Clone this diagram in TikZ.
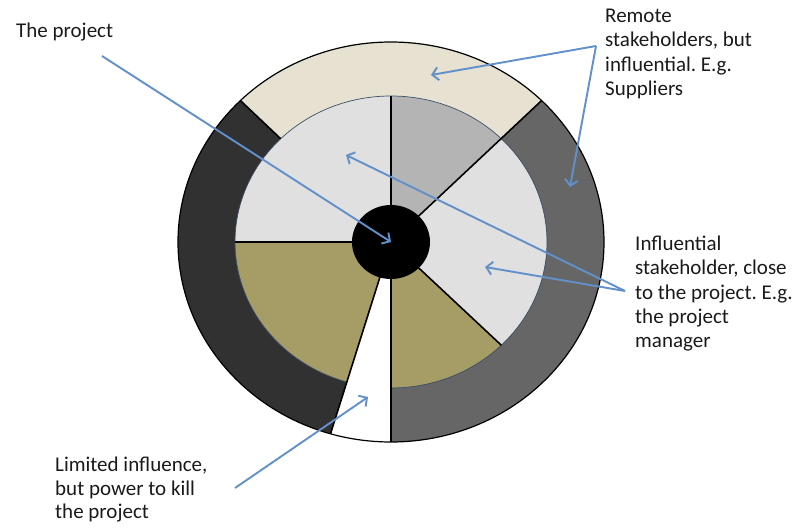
\documentclass[tikz,border=0pt]{standalone}
\usepackage{fontspec}
\setmainfont{Carlito}
\usetikzlibrary{arrows.meta,shapes.geometric}
\frenchspacing

\definecolor{ringbeige}{HTML}{E6E1D1}
\definecolor{ringdark}{HTML}{313131}
\definecolor{ringgrey}{HTML}{666666}
\definecolor{pielight}{HTML}{E0E0E0}
\definecolor{piegrey}{HTML}{B4B4B4}
\definecolor{pieolive}{HTML}{A59C66}
\definecolor{edgeblue}{HTML}{3A4E66}
\definecolor{arrowblue}{HTML}{6190CA}
\definecolor{inktext}{HTML}{1A1A1A}

\begin{document}
\begin{tikzpicture}[x=1pt,y=1pt,
  notetext/.style={anchor=base west, inner sep=0pt, text=inktext,
    font=\fontsize{21}{24.2}\selectfont},
  callout/.style={draw=arrowblue, line width=1.9pt,
    -{Straight Barb[length=6pt,width=13pt]}},
  spoke/.style={draw=black, line width=1.6pt},
  inner arc/.style={x radius=156, y radius=146},
  outer arc/.style={x radius=213, y radius=200}]
\useasboundingbox (0,0) rectangle (794,528);

\begin{scope}[shift={(391,286)}]
  % inner pie sectors (inner radii 156 x 146)
  \fill[pielight] (0,0) -- (90:156 and 146) arc[start angle=90,end angle=180,inner arc] -- cycle;
  \fill[piegrey]  (0,0) -- (45:156 and 146) arc[start angle=45,end angle=90,inner arc] -- cycle;
  \fill[pielight] (0,0) -- (-45:156 and 146) arc[start angle=-45,end angle=45,inner arc] -- cycle;
  \fill[pieolive] (0,0) -- (-90:156 and 146) arc[start angle=-90,end angle=-45,inner arc] -- cycle;
  \fill[pieolive] (0,0) -- (180:156 and 146) arc[start angle=180,end angle=253.5,inner arc] -- cycle;

  % outer ring sectors (outer radii 213 x 200)
  \fill[ringbeige] (45:213 and 200) arc[start angle=45,end angle=135,outer arc]
    -- (135:156 and 146) arc[start angle=135,end angle=45,inner arc] -- cycle;
  \fill[ringdark] (135:213 and 200) arc[start angle=135,end angle=253.5,outer arc]
    -- (253.5:156 and 146) arc[start angle=253.5,end angle=135,inner arc] -- cycle;
  \fill[ringgrey] (-90:213 and 200) arc[start angle=-90,end angle=45,outer arc]
    -- (45:156 and 146) arc[start angle=45,end angle=-90,inner arc] -- cycle;

  % boundary between pie and ring, open over the white wedge
  \draw[edgeblue, line width=0.7pt] (-90:156 and 146) arc[start angle=-90,end angle=253.5,inner arc];

  % spokes
  \draw[spoke] (0,0) -- (90:156 and 146);
  \draw[spoke] (0,0) -- (180:156 and 146);
  \draw[spoke] (0,0) -- (-45:156 and 146);
  \draw[spoke] (0,0) -- (45:213 and 200);
  \draw[spoke] (0,0) -- (-90:213 and 200);
  \draw[spoke] (0,0) -- (253.5:213 and 200);
  \draw[spoke] (135:156 and 146) -- (135:213 and 200);

  % outline
  \draw[black, line width=1.2pt] (0,0) ellipse[outer arc];

  % the project at the core
  \node[ellipse, fill=black, inner sep=0pt, minimum width=78pt, minimum height=74pt] (core) at (0,0) {};
\end{scope}

% texts
\node[notetext] (proj) at (16,490.7) {The project};
\node[notetext] (remote) at (605,505.3) {\begin{tabular}[t]{@{}l@{}}Remote\\stakeholders, but\\influential. E.g.\\Suppliers\end{tabular}};
\node[notetext] (close) at (635,277.3) {\begin{tabular}[t]{@{}l@{}}Influential\\stakeholder, close\\to the project. E.g.\\the project\\manager\end{tabular}};
\node[notetext, font=\fontsize{21}{23.4}\selectfont] (kill) at (55,56.3) {\begin{tabular}[t]{@{}l@{}}Limited influence,\\but power to kill\\the project\end{tabular}};

% arrow tails and tips
\coordinate (projtail) at (102,472);
\coordinate (remotetail) at (596,482);
\coordinate (beigetip) at (431,453);
\coordinate (greytip) at (570,341);
\coordinate (closetail) at (625,237);
\coordinate (lighttip) at (346,373);
\coordinate (righttip) at (485,261);
\coordinate (killtail) at (235,40);
\coordinate (whitetip) at (368,131);

\draw[callout] (projtail) -- (core.center);
\draw[callout] (remotetail) -- (beigetip);
\draw[callout] (remotetail) -- (greytip);
\draw[callout] (closetail) -- (lighttip);
\draw[callout] (closetail) -- (righttip);
\draw[callout] (killtail) -- (whitetip);
\end{tikzpicture}
\end{document}
